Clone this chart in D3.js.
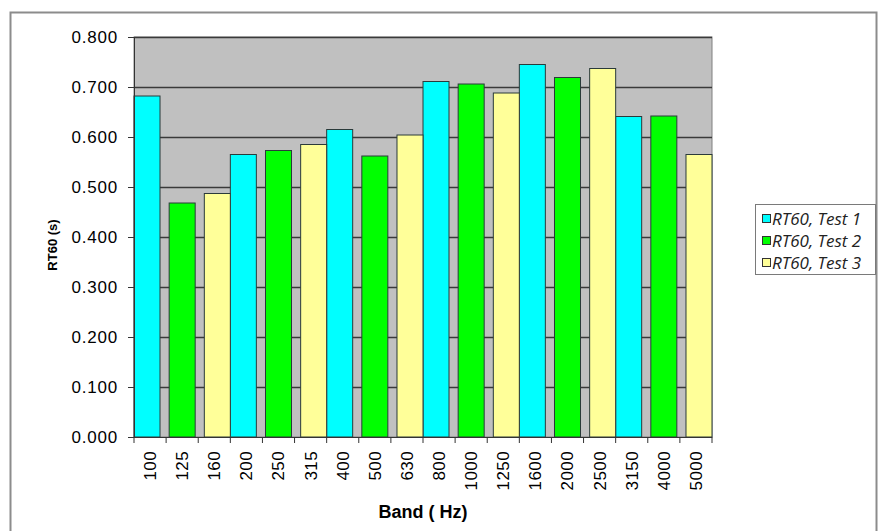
<!DOCTYPE html>
<html>
<head>
<meta charset="utf-8">
<script src="https://cdn.jsdelivr.net/npm/d3@7"></script>
<style>
  html, body { margin: 0; padding: 0; background: #ffffff; }
  svg { display: block; }
</style>
</head>
<body>
<svg id="chart" width="881" height="531"></svg>
<script>
// Reverberation time per third-octave band, three test runs
const bands = ["100","125","160","200","250","315","400","500","630","800",
               "1000","1250","1600","2000","2500","3150","4000","5000"];
const seriesNames = ["RT60, Test 1", "RT60, Test 2", "RT60, Test 3"];
const test1 = [0.682, null, null, 0.565, null, null, 0.615, null, null, 0.711, null, null, 0.745, null, null, 0.641, null, null];
const test2 = [null, 0.468, null, null, 0.573, null, null, 0.562, null, null, 0.706, null, null, 0.719, null, null, 0.642, null];
const test3 = [null, null, 0.487, null, null, 0.585, null, null, 0.604, null, null, 0.688, null, null, 0.737, null, null, 0.565];
const seriesColors = ["#00ffff", "#00ff00", "#ffff99"];
const yTicks = [0, 0.1, 0.2, 0.3, 0.4, 0.5, 0.6, 0.7, 0.8];

const allSeries = [test1, test2, test3];

const svg = d3.select("#chart");

// outer chart frame
svg.append("rect")
  .attr("x", 10.5).attr("y", 12.5)
  .attr("width", 866).attr("height", 540)
  .attr("fill", "#ffffff")
  .attr("stroke", "#8c8c8c").attr("stroke-width", 2);

const plot = { left: 134, right: 712, top: 37, bottom: 437 };

const x = d3.scaleBand().domain(bands).range([plot.left, plot.right]).paddingInner(0).paddingOuter(0);
const y = d3.scaleLinear().domain([0, 0.8]).range([plot.bottom, plot.top]);

// each series sits in its own shifted slot inside a category (heavy overlap)
const barW = x.bandwidth() * 0.81;
const slot = d3.scalePoint().domain([0, 1, 2]).range([0, x.bandwidth() - barW]);

// plot area
svg.append("rect")
  .attr("x", plot.left).attr("y", plot.top)
  .attr("width", plot.right - plot.left).attr("height", plot.bottom - plot.top)
  .attr("fill", "#c0c0c0")
  .attr("stroke", "#808080").attr("stroke-width", 1);

// horizontal gridlines
svg.append("g")
  .selectAll("line")
  .data(yTicks.filter(t => t > 0))
  .join("line")
  .attr("x1", plot.left).attr("x2", plot.right)
  .attr("y1", d => Math.round(y(d)) + 0.5).attr("y2", d => Math.round(y(d)) + 0.5)
  .attr("stroke", "#3a3a3a").attr("stroke-width", 1.3);

// bars
allSeries.forEach((vals, si) => {
  svg.append("g")
    .selectAll("rect")
    .data(bands.map((b, i) => ({ band: b, value: vals[i] })).filter(d => d.value != null))
    .join("rect")
    .attr("x", d => x(d.band) + slot(si))
    .attr("y", d => y(d.value))
    .attr("width", barW)
    .attr("height", d => y(0) - y(d.value))
    .attr("fill", seriesColors[si])
    .attr("stroke", "#2a3a3a").attr("stroke-width", 1);
});

// y axis
const yAxis = d3.axisLeft(y).tickValues(yTicks).tickFormat(d3.format(".3f")).tickSize(6).tickPadding(10);
const gy = svg.append("g").attr("transform", `translate(${plot.left},0)`).call(yAxis);
gy.select(".domain").attr("stroke", "#333");
gy.selectAll(".tick line").attr("stroke", "#333");
gy.selectAll(".tick text")
  .attr("font-family", "'Liberation Sans', Arial, sans-serif")
  .attr("font-size", 17).attr("letter-spacing", 0.8)
  .attr("fill", "#000");

// x axis: ticks on category boundaries, rotated band labels
const gx = svg.append("g").attr("transform", `translate(0,${plot.bottom})`);
gx.append("line")
  .attr("x1", plot.left).attr("x2", plot.right)
  .attr("y1", 0.5).attr("y2", 0.5)
  .attr("stroke", "#333");
gx.selectAll("line.tk")
  .data(bands.concat(["end"]))
  .join("line").attr("class", "tk")
  .attr("x1", (d, i) => x.step() * i + plot.left)
  .attr("x2", (d, i) => x.step() * i + plot.left)
  .attr("y1", 0).attr("y2", 6)
  .attr("stroke", "#333");
gx.selectAll("text")
  .data(bands)
  .join("text")
  .attr("transform", d => `translate(${x(d) + x.bandwidth() / 2},14) rotate(-90)`)
  .attr("text-anchor", "end")
  .attr("dy", "0.35em")
  .attr("font-family", "'Liberation Sans', Arial, sans-serif")
  .attr("font-size", 17).attr("letter-spacing", 0.4)
  .attr("fill", "#000")
  .text(d => d);

// axis titles
svg.append("text")
  .attr("transform", `translate(${(plot.left + plot.right) / 2},518)`)
  .attr("text-anchor", "middle")
  .attr("font-family", "'Liberation Sans', Arial, sans-serif")
  .attr("font-weight", "bold").attr("font-size", 18)
  .text("Band ( Hz)");

svg.append("text")
  .attr("transform", `translate(57,245) rotate(-90)`)
  .attr("text-anchor", "middle")
  .attr("font-family", "'Liberation Sans', Arial, sans-serif")
  .attr("font-weight", "bold").attr("font-size", 13)
  .text("RT60 (s)");

// legend
const legend = svg.append("g");
legend.append("rect")
  .attr("x", 755.5).attr("y", 204.5).attr("width", 120).attr("height", 70)
  .attr("fill", "#ffffff").attr("stroke", "#7a7a7a").attr("stroke-width", 1);
seriesNames.forEach((name, i) => {
  const cy = 219 + i * 22;
  legend.append("rect")
    .attr("x", 762.5).attr("y", cy - 4.5).attr("width", 8).attr("height", 8)
    .attr("fill", seriesColors[i]).attr("stroke", "#333").attr("stroke-width", 1);
  legend.append("text")
    .attr("x", 772).attr("y", cy + 6)
    .attr("font-family", "'Open Sans', sans-serif")
    .attr("font-style", "italic").attr("font-size", 17)
    .attr("fill", "#222")
    .text(name);
});
</script>
</body>
</html>
